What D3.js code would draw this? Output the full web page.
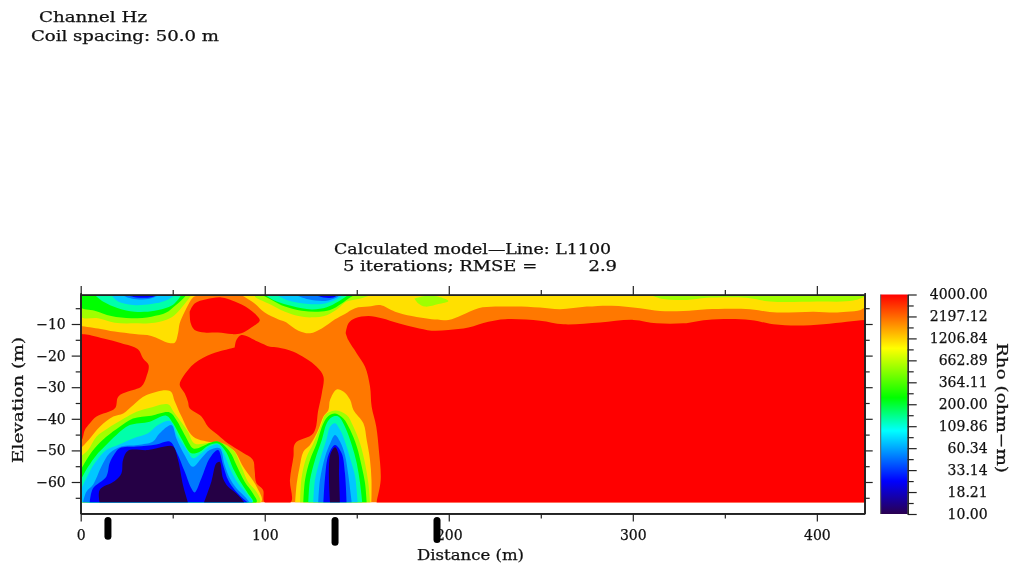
<!DOCTYPE html>
<html>
<head>
<meta charset="utf-8">
<script src="https://cdn.jsdelivr.net/npm/d3@7"></script>
<style>
body { margin: 0; background: #fff; }
svg { display: block; filter: blur(0.35px); }
text { font-family: "DejaVu Serif", serif; font-size: 14px; fill: #111; stroke: #111; stroke-width: 0.25; }
.axis path, .axis line { stroke: #222; stroke-width: 1.2; }
</style>
</head>
<body>
<svg width="1014" height="568"></svg>
<script>
// model section extent (m)
const maxDistance = 426;
const topElevation = -0.8;
const bottomElevation = -66.5;

const distanceMajor = [0, 100, 200, 300, 400];
const distanceMinor = [50, 150, 250, 350];
const elevationMajor = [-10, -20, -30, -40, -50, -60];
const elevationMinor = [-5, -15, -25, -35, -45, -55, -65];

const rhoTicks = [4000, 2197.12, 1206.84, 662.89, 364.11, 200, 109.86, 60.34, 33.14, 18.21, 10];
const rhoStopValues = [4000, 921, 239, 97, 24.6, 10];
const rhoStopColors = ["#ff0000", "#ffff00", "#00ff00", "#00ffff", "#0000ff", "#2a0050"];

// electrode marks under the section: distance, lower end elevation
const markDistance = [14.8, 138.2, 193.6];
const markEnd = [-77.2, -79.1, -78.2];

// contour patches as [distance, elevation]
// painted in this order on an orange base, each one nested in the one before
const redPatches = [
  [[0,-13.2],[5.8,-13.6],[13,-14.7],[22.1,-16.1],[31.1,-18],[33.9,-20.9],[36.9,-23],[35.7,-26.7],[33,-29.8],[25.7,-31.4],[20.4,-33],[18.6,-36.7],[8.6,-39.3],[5,-41.4],[2.3,-43.5],[1,-46.2],[0,-47.2]],
  [[59.2,-6.1],[61.9,-3.5],[68.3,-2.2],[76.4,-1.6],[83.7,-2.9],[90.9,-5],[95.5,-7.2],[97.3,-8.9],[92.7,-11.1],[87.3,-12.9],[81.9,-13.2],[74.6,-12.7],[67.4,-12.7],[61.9,-11.9],[59.8,-9.8],[59.2,-6.1]],
  [[83.7,-17.4],[84.6,-15.1],[87.3,-13.5],[96.4,-15.6],[102.9,-17.2],[107.2,-17.4],[115.6,-18.8],[128.2,-23.5],[131.9,-26.7],[131,-32],[129.1,-37.2],[126.4,-44.6],[116.5,-47.8],[115.6,-52],[113.7,-59.4],[114.1,-66.5],[100,-66.5],[99.1,-62.5],[95.5,-60.4],[94.5,-56.2],[93.6,-53],[87.3,-50.4],[80.1,-47.8],[74.6,-45.1],[69.2,-42.5],[65.6,-39.3],[59.2,-36.7],[58.3,-34.6],[56.5,-31.9],[53.8,-29.3],[55.6,-26.7],[61.9,-22.4],[71,-19.5],[78.2,-18.2],[83.7,-17.4]],
  [[144,-12.9],[145.5,-9.8],[149.1,-8.2],[156.3,-7.5],[163.6,-8.2],[172.6,-9.8],[181.7,-11.1],[190.7,-12.1],[199.8,-11.9],[210.7,-11.1],[221.5,-9.3],[230.6,-8.5],[249.6,-8.95],[262.3,-10.1],[282.2,-9.5],[300.3,-8.7],[313,-9.8],[327.5,-9.8],[340.2,-8.7],[363.7,-8.7],[376.4,-10.1],[389.1,-10.5],[403.6,-10.1],[416.3,-9.3],[426,-8.7],[430,-8.7],[430,-68],[160.8,-68],[160.8,-66.5],[163,-59.4],[162,-49.9],[160.6,-42.5],[158.1,-36.2],[157.2,-29.8],[154.5,-23.5],[150,-19.3],[145.4,-15.1],[144,-12.9]]
];
const yellowPatches = [
  [[0,-0.8],[63.7,-0.8],[61,-1.6],[56.5,-6.1],[53.8,-9.8],[52.9,-12.9],[51.1,-15.9],[47.4,-15.9],[38.4,-13.8],[29.3,-13.2],[18.5,-12.4],[9.4,-11.4],[0,-10.6]],
  [[87.3,-0.8],[94.5,-3.5],[100,-6.4],[107.2,-8.5],[111,-9.3],[118.3,-12.1],[124.6,-12.9],[131,-11.4],[138.2,-8.5],[143.6,-6.8],[149.1,-5],[156.3,-4.5],[162.7,-4],[170.8,-6.1],[179.9,-7.5],[190.7,-8.5],[199.8,-8.7],[207,-7.2],[216.1,-5],[225.2,-4.5],[236,-4.5],[249.6,-4.8],[260.5,-5.3],[275,-4.5],[288.5,-4.2],[303.9,-5],[314.8,-5.9],[327.5,-5.9],[340.2,-5.3],[363.7,-5.3],[376.4,-6.3],[398.2,-6.1],[412.6,-6.3],[426,-4.8],[426,-0.8]],
  [[0,-49.4],[5,-46.2],[10.4,-42.5],[17.7,-39.3],[23.1,-38.3],[28.6,-35.6],[35.8,-32.5],[48.5,-31.2],[51.2,-34.6],[54.8,-39.3],[61.2,-45.7],[73,-47.8],[82.9,-49.9],[88.3,-55.2],[95.6,-61.5],[98,-66.5],[0,-66.5]],
  [[116.5,-66.5],[117.4,-60.4],[119,-55.1],[121,-50.4],[124.6,-48.3],[129.1,-43.5],[131.9,-39.3],[134.6,-37.2],[135.5,-34],[139.1,-30.7],[142.7,-31.4],[146.4,-34],[148.2,-37.2],[153.6,-41.4],[155.4,-46.7],[157.2,-53],[158,-59.4],[158,-66.5]]
];
const limePatches = [
  [[0,-0.8],[0,-7.7],[9.4,-8.2],[18.5,-9.6],[29.3,-9.8],[40.2,-9.6],[48.4,-8.2],[52.9,-6.1],[57.5,-2.9],[60.1,-0.8]],
  [[94.7,-0.8],[94.7,-1.35],[102,-3.5],[111,-6.1],[118.3,-7.5],[125.5,-7.9],[133.7,-7.2],[140,-5],[144.5,-2.9],[150,-2.2],[156.3,-1.1],[158.1,-0.8]],
  [[181.3,-1.9],[187.1,-1.1],[194.4,-1.35],[199.8,-2.7],[194.4,-3.7],[187.1,-4.5],[183.5,-3.5],[181.3,-1.9]],
  [[309.4,-0.8],[316.6,-2.1],[329.3,-2.4],[340.2,-1.7],[361.9,-1.7],[374.6,-2.9],[400,-2.9],[419.9,-2.6],[426,-1.25],[426,-0.8]],
  [[0,-52],[4,-49.9],[8.5,-45.7],[14.8,-43],[22.1,-40.4],[28.4,-38.3],[36.6,-36.7],[47.4,-35.4],[50.2,-37.5],[53.8,-40.4],[58.3,-44.1],[61.9,-47.8],[75.5,-47.4],[82.8,-49.9],[87.3,-55.2],[90.9,-59.9],[95.5,-63.1],[97.3,-66.5],[0,-66.5]],
  [[119.2,-66.5],[120.1,-58.3],[122.8,-52],[126.4,-47.8],[131,-41.4],[132.8,-38.8],[138.2,-37.4],[144.5,-38.8],[148.2,-42.5],[151.8,-47.8],[154.5,-54.1],[156.3,-60.4],[157.2,-66.5]]
];
const greenPatches = [
  [[0,-0.8],[0,-4.7],[7.6,-5.8],[16.6,-7.5],[27.5,-8.2],[38.4,-7.7],[46.5,-6.4],[51.1,-4.3],[55.7,-1.9],[57.4,-0.8]],
  [[98.4,-0.8],[103.8,-2.4],[111,-4.5],[120.1,-5.8],[129.1,-6.1],[135.5,-5.6],[141.8,-3.5],[146.4,-1.6],[149.1,-0.8]],
  [[0,-56.2],[3.1,-53],[7.6,-49.3],[13.9,-45.7],[21.2,-42.5],[28.4,-39.9],[38.4,-39],[48.4,-38],[52,-40.4],[56.5,-45.1],[61,-49.3],[63.7,-49.3],[68.3,-48.1],[74.6,-47.2],[81,-50.4],[84.6,-54.6],[89.1,-59.9],[93.6,-63.6],[95.5,-66.5],[0,-66.5]],
  [[121,-66.5],[121.9,-59.4],[124.6,-53],[128.2,-47.8],[131.9,-41.4],[134.6,-39.1],[138.2,-38.3],[142.7,-39.9],[146.4,-43.5],[150,-48.8],[152.7,-55.1],[154.5,-60.4],[155.4,-66.5]]
];
const tealPatches = [
  [[7.6,-0.8],[12.1,-2.9],[20.3,-5],[29.3,-6.1],[40.2,-5.8],[50,-4],[54.7,-0.8]],
  [[100.2,-0.8],[106.5,-2.9],[114.7,-4.3],[125.5,-5.4],[133.7,-4.7],[140,-2.9],[145.5,-0.8]],
  [[0,-59.4],[4,-55.2],[8.5,-51.5],[13,-48.8],[19.4,-45.1],[26.6,-42],[37.5,-40.9],[46.5,-39],[50.2,-41.4],[54.7,-46.2],[60.1,-50.9],[64.7,-50.4],[69.2,-48.5],[74.6,-47.8],[79.1,-50.6],[82.8,-55.7],[87.3,-60.4],[90.9,-63.6],[93.6,-66.5],[0,-66.5]],
  [[123.7,-66.5],[124.6,-59.4],[127.3,-53],[131,-46.7],[133.7,-41.4],[136.4,-39.5],[140,-39.3],[143.6,-42.5],[147.3,-48.3],[150,-54.1],[151.8,-60.4],[153,-66.5]]
];
const cyanPatches = [
  [[16.6,-0.8],[20.3,-2.9],[28.4,-4],[38.4,-3.7],[47,-2.4],[51.1,-0.8]],
  [[106.5,-0.8],[112.8,-2.6],[123.7,-3.7],[132.8,-3.5],[139.1,-2.2],[142.7,-0.8]],
  [[0,-62.5],[3.1,-58.8],[7.6,-54.1],[13.9,-49.9],[20.3,-48.3],[28.4,-46.2],[36.6,-44.6],[42,-42],[48.4,-40.7],[52.9,-45.7],[58.3,-50.4],[61,-52.5],[65.6,-50.9],[70.1,-48.8],[74.6,-48.1],[78.2,-51.5],[81.9,-56.7],[85.5,-60.4],[90,-63.6],[93.1,-66.5],[0,-66.5]],
  [[126.4,-66.5],[127.3,-59.4],[130,-53],[133.7,-46.2],[135.5,-42.5],[138.2,-41.4],[140.9,-43.5],[143.6,-47.2],[146.4,-52.5],[149.1,-58.3],[150.5,-66.5]]
];
const midBluePatches = [
  [[22.1,-0.8],[27.5,-1.9],[36.6,-2.1],[42.9,-0.8]],
  [[116.5,-0.8],[123.7,-2.2],[132.8,-2.7],[139.1,-1.6],[140.9,-0.8]],
  [[1.2,-66.5],[3.1,-63.1],[6.7,-60.9],[11.2,-55.2],[15.7,-50.9],[22.1,-48.8],[31.1,-48.3],[39.3,-47.2],[42.9,-44.6],[49.3,-42],[52,-46.2],[56.5,-51.5],[61,-55.2],[65.6,-52.5],[70.1,-49.9],[75.5,-49.3],[78.2,-54.6],[81,-58.8],[84.6,-62],[89.1,-64.6],[91.8,-66.5]],
  [[129.1,-66.5],[130,-59.4],[132.8,-52],[135.5,-47.8],[138.2,-45.1],[140.9,-47.2],[143.6,-51.5],[145.4,-57.8],[147.3,-66.5]]
];
const bluePatches = [
  [[24.8,-0.8],[30.2,-1.6],[38.4,-1.5],[42,-0.8]],
  [[127.3,-0.8],[131.9,-1.6],[137.3,-1.6],[139.6,-0.8]],
  [[4.9,-66.5],[6.7,-62],[13.9,-58.3],[15.7,-54.1],[18.5,-51],[21.2,-49.3],[30.2,-48.8],[41.1,-48.1],[48.4,-47.2],[52,-50.4],[56.5,-56.7],[60.1,-62],[61.9,-63.3],[65.6,-58.8],[70.1,-52.5],[74.6,-49.9],[77.3,-54.6],[80.1,-59.4],[83.7,-62.5],[88.2,-65.2],[90.9,-66.5]],
  [[131.9,-66.5],[132.8,-58.3],[134.6,-51.5],[138.2,-48.3],[141.8,-50.9],[143.6,-57.3],[144.5,-66.5]]
];
const darkPatches = [
  [[10.3,-66.5],[10.3,-62.5],[18.5,-59.7],[22.1,-57.3],[23,-53],[25.7,-50.1],[36.6,-49.9],[45.6,-48.8],[50.2,-48.8],[52.9,-53],[55.6,-61],[58.3,-66.5]],
  [[67,-66.5],[71,-59.9],[73.7,-54.1],[75.5,-53.6],[77.3,-58.8],[80.1,-61.5],[84.6,-63.6],[89,-66.5]],
  [[135.5,-66.5],[135.5,-51.5],[138.2,-49],[140,-50.9],[140.4,-58.3],[140.9,-66.5]]
];

const bandPatches = [redPatches, yellowPatches, limePatches, greenPatches, tealPatches, cyanPatches, midBluePatches, bluePatches, darkPatches];
const bandColors = ["#ff0000", "#ffe000", "#a0ff00", "#00ff00", "#00ffaa", "#00c8ff", "#0078ff", "#0000ff", "#250045"];
const baseColor = "#ff7800";

const svg = d3.select("svg");

const x = d3.scaleLinear().domain([0, maxDistance]).range([80.7, 864.7]);
const y = d3.scaleLinear().domain([-70, 0]).range([513.6, 292.4]);
const rho = d3.scaleLog().domain([10, 4000]).range([514, 294.5]);

// section
svg.append("clipPath").attr("id", "section")
    .append("rect")
    .attr("x", x(0))
    .attr("y", y(topElevation))
    .attr("width", x(maxDistance) - x(0))
    .attr("height", y(bottomElevation) - y(topElevation));

const section = svg.append("g").attr("clip-path", "url(#section)");

section.append("rect")
    .attr("x", x(0))
    .attr("y", y(topElevation))
    .attr("width", x(maxDistance) - x(0))
    .attr("height", y(bottomElevation) - y(topElevation))
    .attr("fill", baseColor);

const patchLine = d3.line()
    .x(d => x(d[0]))
    .y(d => y(d[1]))
    .curve(d3.curveCatmullRom.alpha(0.5));

bandPatches.forEach((patches, i) => {
    section.append("g")
        .selectAll("path")
        .data(patches)
        .enter()
        .append("path")
        .attr("d", d => patchLine(d) + "Z")
        .attr("fill", bandColors[i]);
});

// axes: long ticks with labels, short ticks without
function drawAxis(axisFn, scale, major, minor, transform, majorSize, minorSize, labels) {
    const g = svg.append("g").attr("class", "axis").attr("transform", transform);
    g.call(axisFn(scale).tickValues(minor).tickSize(minorSize).tickSizeOuter(0).tickFormat(""));
    const m = svg.append("g").attr("class", "axis").attr("transform", transform);
    m.call(axisFn(scale).tickValues(major).tickSize(majorSize).tickSizeOuter(0).tickPadding(6).tickFormat(labels ? null : ""));
    m.selectAll("text").style("font-family", '"DejaVu Serif", serif').style("font-size", "14px").attr("fill", "#111");
    return m;
}

const bottomAxis = drawAxis(d3.axisBottom, x, distanceMajor, distanceMinor, `translate(0,${y(-70)})`, 8, 5, true);
bottomAxis.selectAll("text").attr("dy", "12.5");
drawAxis(d3.axisTop, x, distanceMajor, distanceMinor, `translate(0,${y(topElevation)})`, 9, 5, false);
const leftAxis = drawAxis(d3.axisLeft, y, elevationMajor, elevationMinor, `translate(${x(0)},0)`, 9, 5, true);
drawAxis(d3.axisRight, y, elevationMajor, elevationMinor, `translate(${x(maxDistance)},0)`, 8, 5, false);

svg.append("rect")
    .attr("x", x(0))
    .attr("y", y(topElevation))
    .attr("width", x(maxDistance) - x(0))
    .attr("height", y(-70) - y(topElevation))
    .attr("fill", "none")
    .attr("stroke", "#222")
    .attr("stroke-width", 1.2);

// colour bar
const barLeft = 880.7, barRight = 907.7;
const gradient = svg.append("defs").append("linearGradient")
    .attr("id", "rhoGradient")
    .attr("x1", 0).attr("x2", 0).attr("y1", 0).attr("y2", 1);
gradient.selectAll("stop")
    .data(rhoStopValues)
    .enter()
    .append("stop")
    .attr("offset", d => (rho(d) - rho(4000)) / (rho(10) - rho(4000)))
    .attr("stop-color", (d, i) => rhoStopColors[i]);

svg.append("rect")
    .attr("x", barLeft)
    .attr("y", rho(4000))
    .attr("width", barRight - barLeft)
    .attr("height", rho(10) - rho(4000))
    .attr("fill", "url(#rhoGradient)");

const rhoMinor = d3.pairs(rhoTicks).map(p => Math.sqrt(p[0] * p[1]));
const rhoAxis = drawAxis(d3.axisRight, rho, rhoTicks, rhoMinor, `translate(${barRight},0)`, 9, 6, true);
rhoAxis.selectAll("text")
    .text(d => d3.format(".2f")(d))
    .attr("text-anchor", "end")
    .attr("x", 80);

svg.append("line")
    .attr("x1", barLeft).attr("x2", barLeft)
    .attr("y1", rho(4000)).attr("y2", rho(10))
    .attr("stroke", "#555");

// electrode marks
svg.append("g")
    .selectAll("line")
    .data(markDistance)
    .enter()
    .append("line")
    .attr("x1", d => x(d))
    .attr("x2", d => x(d))
    .attr("y1", y(-72.2))
    .attr("y2", (d, i) => y(markEnd[i]))
    .attr("stroke", "#000")
    .attr("stroke-width", 7)
    .attr("stroke-linecap", "round");

// titles
function label(txt, px, py, len) {
    return svg.append("text")
        .attr("x", px)
        .attr("y", py)
        .attr("textLength", len)
        .attr("lengthAdjust", "spacingAndGlyphs")
        .style("white-space", "pre")
        .text(txt);
}

label("Channel Hz", 39, 22, 108);
label("Coil spacing: 50.0 m", 31, 41, 188);
label("Calculated model\u2014Line: L1100", 334, 254, 277);
label("5 iterations; RMSE =         2.9", 343, 271, 274);
label("Distance (m)", 417, 560, 107);

svg.append("text")
    .attr("transform", "translate(23,400) rotate(-90)")
    .attr("text-anchor", "middle")
    .attr("textLength", 126)
    .attr("lengthAdjust", "spacingAndGlyphs")
    .text("Elevation (m)");

svg.append("text")
    .attr("transform", "translate(997,408) rotate(90)")
    .attr("text-anchor", "middle")
    .attr("textLength", 130)
    .attr("lengthAdjust", "spacingAndGlyphs")
    .text("Rho (ohm\u2212m)");
</script>
</body>
</html>
